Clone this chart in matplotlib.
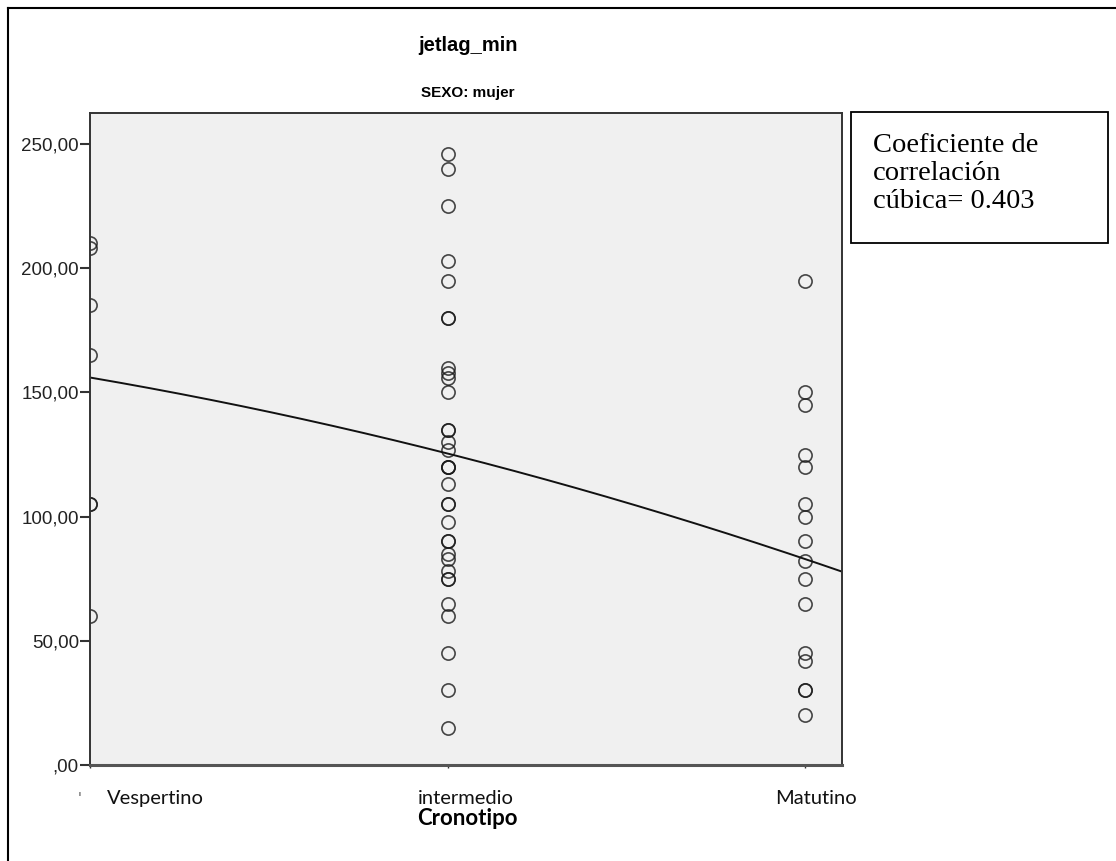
import numpy as np
import matplotlib.pyplot as plt
from matplotlib.lines import Line2D
from matplotlib.transforms import ScaledTranslation

# jetlag (min) por cronotipo, mujeres
categorias = ['Vespertino', 'intermedio', 'Matutino']
x_cat = [1, 2, 3]

vespertino = [210, 208, 185, 165, 105, 105, 60]
intermedio = [246, 240, 225, 203, 195, 180, 180, 160, 158, 156, 150,
              135, 135, 130, 127, 120, 120, 120, 113, 105, 105, 98,
              90, 90, 85, 83, 78, 75, 75, 65, 60, 45, 30, 15]
matutino = [195, 150, 145, 125, 120, 105, 100, 90, 82, 75, 65,
            45, 42, 30, 30, 20]

# curva de ajuste (valores de la curva en cada categoria)
ajuste = [156, 125.4, 82.9]

y_ticks = [0, 50, 100, 150, 200, 250]
y_ticklabels = [',00', '50,00', '100,00', '150,00', '200,00', '250,00']

fig = plt.figure(figsize=(11.16, 8.61), dpi=100)
ax = fig.add_axes([0.0806, 0.1115, 0.6739, 0.7573])
ax.set_facecolor('#f0f0f0')

for xc, vals in zip(x_cat, [vespertino, intermedio, matutino]):
    ax.plot([xc] * len(vals), vals, 'o', ms=9.5, mfc='none',
            mec='#1a1a1a', mew=1.2, alpha=0.8)

coef = np.polyfit(x_cat, ajuste, 2)
xs = np.linspace(1, 3.11, 200)
ax.plot(xs, np.polyval(coef, xs), color='#111111', lw=1.4)

ax.set_xlim(1, 3.103)
ax.set_ylim(0, 262.5)

ax.set_yticks(y_ticks)
ax.set_yticklabels(y_ticklabels, family='Liberation Sans', fontsize=13.5,
                   color='#222222')
ax.tick_params(axis='y', length=7, width=1.5, color='#333333', pad=1)

ax.set_xticks(x_cat)
ax.set_xticklabels(categorias, family='Lato', fontsize=14.5, color='#111111')
ax.tick_params(axis='x', length=2, width=1, color='#333333', pad=16)
desplaz = [65, 18, 11]
for lab, dx in zip(ax.get_xticklabels(), desplaz):
    lab.set_transform(lab.get_transform() +
                      ScaledTranslation(dx / 100, 0, fig.dpi_scale_trans))

for s in ['left', 'top', 'right']:
    ax.spines[s].set_color('#333333')
    ax.spines[s].set_linewidth(1.4)
ax.spines['bottom'].set_color('#555555')
ax.spines['bottom'].set_linewidth(2.2)

fig.text(0.0717, 0.068, "'", fontsize=10, color='#555555', ha='center')

fig.text(0.419, 0.947, 'jetlag_min', family='Liberation Sans',
         fontsize=14.5, weight='bold', ha='center', va='center')
fig.text(0.419, 0.892, 'SEXO: mujer', family='Liberation Sans',
         fontsize=11, weight='bold', ha='center', va='center')
fig.text(0.419, 0.049, 'Cronotipo', family='Lato', fontsize=16,
         weight='bold', ha='center', va='center')

# cuadro con el coeficiente
fig.text(0.782, 0.846, 'Coeficiente de\ncorrelación\ncúbica= 0.403',
         family='Liberation Serif', fontsize=20.5, ha='left', va='top',
         linespacing=1.16)
fig.add_artist(plt.Rectangle((0.7625, 0.7178), 0.2303, 0.1521,
                             transform=fig.transFigure, fill=False,
                             ec='black', lw=1.3))

# borde superior e izquierdo
fig.add_artist(Line2D([0.0072, 1.0], [0.9907, 0.9907],
                      transform=fig.transFigure, color='black', lw=1.5))
fig.add_artist(Line2D([0.0072, 0.0072], [0.0, 0.9907],
                      transform=fig.transFigure, color='black', lw=1.5))

plt.savefig('out.png', dpi=100)
